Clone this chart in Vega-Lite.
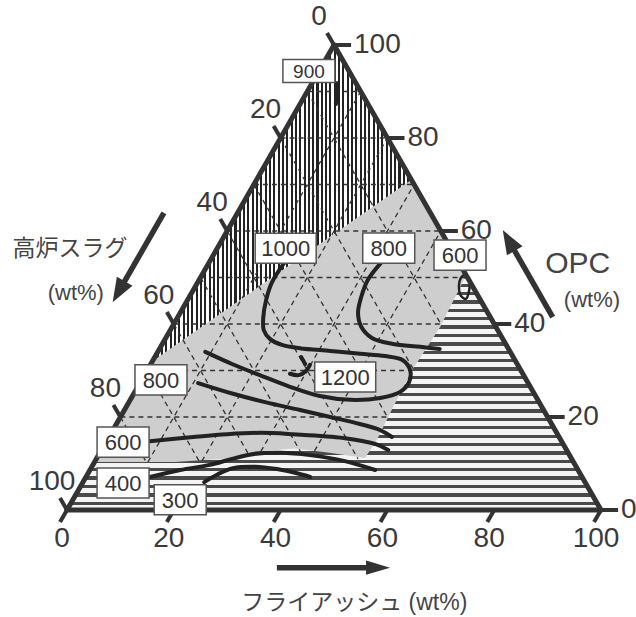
{
"$schema":"https://vega.github.io/schema/vega-lite/v6.json",
"width":636,"height":617,"autosize":{"type":"none"},"padding":0,"background":"white",
"config":{"view":{"stroke":null}},
"datasets":{
"regions":[
{"region":"base","i":0,"F":0,"C":0},{"region":"base","i":1,"F":100,"C":0},{"region":"base","i":2,"F":0,"C":100},
{"region":"wavy","i":0,"F":49.5,"C":50.5},{"region":"wavy","i":1,"F":50.2,"C":39.4},{"region":"wavy","i":2,"F":49.6,"C":30.1},{"region":"wavy","i":3,"F":50,"C":22.2},{"region":"wavy","i":4,"F":50.5,"C":15},{"region":"wavy","i":5,"F":50.2,"C":11.2},{"region":"wavy","i":6,"F":43,"C":12.3},{"region":"wavy","i":7,"F":36,"C":13.2},{"region":"wavy","i":8,"F":29,"C":12.6},{"region":"wavy","i":9,"F":24,"C":11},{"region":"wavy","i":10,"F":15,"C":10.3},{"region":"wavy","i":11,"F":0,"C":10.3},{"region":"wavy","i":12,"F":0,"C":0},{"region":"wavy","i":13,"F":100,"C":0},
{"region":"hatched","i":0,"F":0,"C":100},{"region":"hatched","i":1,"F":0,"C":32},{"region":"hatched","i":2,"F":29,"C":71}
],
"segments":[
{"kind":"grid","F":0,"C":20,"F2":50,"C2":20},{"kind":"grid","F":0,"C":30,"F2":49.6,"C2":30},{"kind":"grid","F":0,"C":40,"F2":50.2,"C2":40},{"kind":"grid","F":0,"C":50,"F2":50,"C2":50},{"kind":"grid","F":0,"C":60,"F2":40,"C2":60},{"kind":"grid","F":0,"C":70,"F2":30,"C2":70},{"kind":"grid","F":0,"C":80,"F2":20,"C2":80},{"kind":"grid","F":0,"C":90,"F2":10,"C2":90},
{"kind":"grid","F":10,"C":10.3,"F2":10,"C2":90},{"kind":"grid","F":20,"C":10.5,"F2":20,"C2":80},{"kind":"grid","F":30,"C":12.6,"F2":30,"C2":70},{"kind":"grid","F":40,"C":12.7,"F2":40,"C2":60},
{"kind":"grid","F":0,"C":90,"F2":50,"C2":40},{"kind":"grid","F":0,"C":80,"F2":50,"C2":30},{"kind":"grid","F":0,"C":70,"F2":50,"C2":20},{"kind":"grid","F":0,"C":60,"F2":49,"C2":11},{"kind":"grid","F":0,"C":50,"F2":37.5,"C2":12.5},{"kind":"grid","F":0,"C":40,"F2":27.7,"C2":12.3},{"kind":"grid","F":0,"C":30,"F2":19.5,"C2":10.5},{"kind":"grid","F":0,"C":20,"F2":9.7,"C2":10.3},
{"kind":"edge","F":0,"C":0,"F2":100,"C2":0},{"kind":"edge","F":100,"C":0,"F2":0,"C2":100},{"kind":"edge","F":0,"C":100,"F2":0,"C2":0},
{"kind":"tick","F":0,"C":0,"F2":0,"C2":-2.6},{"kind":"tick","F":20,"C":0,"F2":20,"C2":-2.6},{"kind":"tick","F":40,"C":0,"F2":40,"C2":-2.6},{"kind":"tick","F":60,"C":0,"F2":60,"C2":-2.6},{"kind":"tick","F":80,"C":0,"F2":80,"C2":-2.6},{"kind":"tick","F":100,"C":0,"F2":100,"C2":-2.6},
{"kind":"tick","F":0,"C":100,"F2":-2.6,"C2":102.6},{"kind":"tick","F":0,"C":80,"F2":-2.6,"C2":82.6},{"kind":"tick","F":0,"C":60,"F2":-2.6,"C2":62.6},{"kind":"tick","F":0,"C":40,"F2":-2.6,"C2":42.6},{"kind":"tick","F":0,"C":20,"F2":-2.6,"C2":22.6},{"kind":"tick","F":0,"C":0,"F2":-2.6,"C2":2.6},
{"kind":"tick","F":100,"C":0,"F2":103.2,"C2":0},{"kind":"tick","F":80,"C":20,"F2":83.2,"C2":20},{"kind":"tick","F":60,"C":40,"F2":63.2,"C2":40},{"kind":"tick","F":40,"C":60,"F2":43.2,"C2":60},{"kind":"tick","F":20,"C":80,"F2":23.2,"C2":80},{"kind":"tick","F":0,"C":100,"F2":3.2,"C2":100},
{"kind":"arrow","F":-13.8,"C":63.9,"F2":-13.8,"C2":47.0},{"kind":"arrow","F":70.2,"C":41.5,"F2":53.7,"C2":58.0},{"kind":"arrow","F":45.5,"C":-12.4,"F2":64.4,"C2":-12.4}
],
"contours":[
{"id":"c1000","i":0,"F":14.1,"C":53.1},{"id":"c1000","i":1,"F":13.9,"C":49.0},{"id":"c1000","i":2,"F":14.7,"C":45.2},{"id":"c1000","i":3,"F":16.1,"C":41.3},{"id":"c1000","i":4,"F":17.5,"C":38.7},{"id":"c1000","i":5,"F":19.6,"C":36.8},{"id":"c1000","i":6,"F":22.5,"C":35.5},{"id":"c1000","i":7,"F":26.2,"C":34.8},{"id":"c1000","i":8,"F":32.2,"C":34.2},{"id":"c1000","i":9,"F":38.1,"C":33.6},{"id":"c1000","i":10,"F":43.0,"C":33.1},{"id":"c1000","i":11,"F":46.6,"C":32.3},{"id":"c1000","i":12,"F":49.2,"C":30.1},{"id":"c1000","i":13,"F":50.3,"C":27.5},{"id":"c1000","i":14,"F":49.7,"C":25.4},{"id":"c1000","i":15,"F":46.6,"C":24.1},{"id":"c1000","i":16,"F":41.2,"C":23.7},{"id":"c1000","i":17,"F":35.1,"C":24.5},{"id":"c1000","i":18,"F":28.5,"C":26.5},{"id":"c1000","i":19,"F":21.6,"C":29.0},{"id":"c1000","i":20,"F":15.2,"C":31.4},{"id":"c1000","i":21,"F":8.9,"C":34.0},
{"id":"c800a","i":0,"F":32.2,"C":53.1},{"id":"c800a","i":1,"F":31.6,"C":49.5},{"id":"c800a","i":2,"F":32.2,"C":45.8},{"id":"c800a","i":3,"F":33.3,"C":42.4},{"id":"c800a","i":4,"F":35.4,"C":39.4},{"id":"c800a","i":5,"F":38.6,"C":37.0},{"id":"c800a","i":6,"F":43.2,"C":35.7},{"id":"c800a","i":7,"F":48.6,"C":35.1},{"id":"c800a","i":8,"F":52.5,"C":34.6},
{"id":"c800b","i":0,"F":10.9,"C":27.3},{"id":"c800b","i":1,"F":18.6,"C":25.0},{"id":"c800b","i":2,"F":25.5,"C":23.2},{"id":"c800b","i":3,"F":32.9,"C":21.5},{"id":"c800b","i":4,"F":39.3,"C":20.0},{"id":"c800b","i":5,"F":45.6,"C":18.5},{"id":"c800b","i":6,"F":50.0,"C":17.2},{"id":"c800b","i":7,"F":53.0,"C":15.7},
{"id":"c600","i":0,"F":8.1,"C":14.8},{"id":"c600","i":1,"F":15.8,"C":15.7},{"id":"c600","i":2,"F":21.8,"C":16.3},{"id":"c600","i":3,"F":27.9,"C":16.6},{"id":"c600","i":4,"F":34.2,"C":16.3},{"id":"c600","i":5,"F":44.0,"C":15.5},{"id":"c600","i":6,"F":50.6,"C":14.2},{"id":"c600","i":7,"F":53.7,"C":12.9},
{"id":"c400","i":0,"F":12.0,"C":7.1},{"id":"c400","i":1,"F":16.9,"C":8.6},{"id":"c400","i":2,"F":21.9,"C":9.7},{"id":"c400","i":3,"F":25.4,"C":11.0},{"id":"c400","i":4,"F":28.8,"C":12.0},{"id":"c400","i":5,"F":33.8,"C":12.3},{"id":"c400","i":6,"F":39.6,"C":11.8},{"id":"c400","i":7,"F":46.8,"C":10.5},{"id":"c400","i":8,"F":53.4,"C":8.6},
{"id":"c300","i":0,"F":22.7,"C":6.0},{"id":"c300","i":1,"F":24.4,"C":7.7},{"id":"c300","i":2,"F":26.6,"C":9.0},{"id":"c300","i":3,"F":30.6,"C":9.3},{"id":"c300","i":4,"F":34.9,"C":8.8},{"id":"c300","i":5,"F":38.7,"C":8.0},{"id":"c300","i":6,"F":42.0,"C":7.1},
{"id":"c900","i":0,"F":4.7,"C":91.8},{"id":"c900","i":1,"F":6.7,"C":87.3},
{"id":"c1200a","i":0,"F":27.1,"C":29.3},{"id":"c1200a","i":1,"F":28.9,"C":29.0},{"id":"c1200a","i":2,"F":29.8,"C":29.9},{"id":"c1200a","i":3,"F":29.9,"C":31.2},
{"id":"c1200b","i":0,"F":27.4,"C":32.9},{"id":"c1200b","i":1,"F":28.9,"C":31.4},
{"id":"loop600","i":0,"F":49.2,"C":50.8},{"id":"loop600","i":1,"F":50.6,"C":49.5},{"id":"loop600","i":2,"F":51.8,"C":46.9},{"id":"loop600","i":3,"F":52.0,"C":45.4},{"id":"loop600","i":4,"F":50.8,"C":46.0},{"id":"loop600","i":5,"F":49.3,"C":48.2},{"id":"loop600","i":6,"F":48.8,"C":49.9},{"id":"loop600","i":7,"F":49.2,"C":50.8}
],
"labels":[
{"label":"900","F":-1.9,"C":94.4},{"label":"1000","F":12.8,"C":56.3},{"label":"800","F":32.1,"C":56.3},{"label":"600","F":46.2,"C":54.8},{"label":"1200","F":37.8,"C":28.6},{"label":"800","F":3.6,"C":28.0},{"label":"600","F":3.2,"C":14.6},{"label":"400","F":7.6,"C":5.8},{"label":"300","F":20.1,"C":2.2}
],
"ticklabels":[
{"axis":"F","t":"0","F":0,"C":0},{"axis":"F","t":"20","F":20,"C":0},{"axis":"F","t":"40","F":40,"C":0},{"axis":"F","t":"60","F":60,"C":0},{"axis":"F","t":"80","F":80,"C":0},{"axis":"F","t":"100","F":100,"C":0},
{"axis":"S","t":"0","F":0,"C":100},{"axis":"S","t":"20","F":0,"C":80},{"axis":"S","t":"40","F":0,"C":60},{"axis":"S","t":"60","F":0,"C":40},{"axis":"S","t":"80","F":0,"C":20},{"axis":"S","t":"100","F":0,"C":0},
{"axis":"C","t":"0","F":100,"C":0},{"axis":"C","t":"20","F":80,"C":20},{"axis":"C","t":"40","F":60,"C":40},{"axis":"C","t":"60","F":40,"C":60},{"axis":"C","t":"80","F":20,"C":80},{"axis":"C","t":"100","F":0,"C":100}
],
"titles":[
{"name":"slag","t":"高炉スラグ","F":-27.5,"C":56.1},{"name":"slagunit","t":"(wt%)","F":-21.7,"C":46.7},{"name":"opc","t":"OPC","F":69.2,"C":52.9},{"name":"opcunit","t":"(wt%)","F":75.7,"C":45.2},{"name":"fa","t":"フライアッシュ (wt%)","F":63.8,"C":-20.0}
],
"heads":[
{"name":"slag","F":-13.8,"C":44.7},{"name":"opc","F":51.5,"C":60.2},{"name":"fa","F":66.7,"C":-12.4}
]
},
"layer":[
{"data":{"name":"regions"},"transform":[{"filter":"datum.region=='base'"},{"calculate":"datum.F+datum.C/2","as":"u"}],
 "mark":{"type":"line","fill":"#cecece","stroke":"transparent","strokeWidth":0},
 "encoding":{"x":{"field":"u","type":"quantitative","scale":{"domain":[-12.547,106.554],"nice":false,"zero":false},"axis":null},"y":{"field":"C","type":"quantitative","scale":{"domain":[-23.011,109.677],"nice":false,"zero":false},"axis":null},"order":{"field":"i","type":"quantitative"}}},
{"data":{"name":"regions"},"transform":[{"filter":"datum.region=='wavy'"},{"calculate":"datum.F+datum.C/2","as":"u"}],
 "mark":{"type":"line","stroke":"transparent","strokeWidth":0,"fill":{"gradient":"linear","x1":0,"y1":0,"x2":0,"y2":1,"stops":[
{"offset":0,"color":"#4a4a4a"},{"offset":0.0143,"color":"#4a4a4a"},{"offset":0.0143,"color":"#f4f4f4"},{"offset":0.0357,"color":"#f4f4f4"},
{"offset":0.0357,"color":"#4a4a4a"},{"offset":0.05,"color":"#4a4a4a"},{"offset":0.05,"color":"#f4f4f4"},{"offset":0.0714,"color":"#f4f4f4"},
{"offset":0.0714,"color":"#4a4a4a"},{"offset":0.0857,"color":"#4a4a4a"},{"offset":0.0857,"color":"#f4f4f4"},{"offset":0.1071,"color":"#f4f4f4"},
{"offset":0.1071,"color":"#4a4a4a"},{"offset":0.1214,"color":"#4a4a4a"},{"offset":0.1214,"color":"#f4f4f4"},{"offset":0.1429,"color":"#f4f4f4"},
{"offset":0.1429,"color":"#4a4a4a"},{"offset":0.1571,"color":"#4a4a4a"},{"offset":0.1571,"color":"#f4f4f4"},{"offset":0.1786,"color":"#f4f4f4"},
{"offset":0.1786,"color":"#4a4a4a"},{"offset":0.1929,"color":"#4a4a4a"},{"offset":0.1929,"color":"#f4f4f4"},{"offset":0.2143,"color":"#f4f4f4"},
{"offset":0.2143,"color":"#4a4a4a"},{"offset":0.2286,"color":"#4a4a4a"},{"offset":0.2286,"color":"#f4f4f4"},{"offset":0.25,"color":"#f4f4f4"},
{"offset":0.25,"color":"#4a4a4a"},{"offset":0.2643,"color":"#4a4a4a"},{"offset":0.2643,"color":"#f4f4f4"},{"offset":0.2857,"color":"#f4f4f4"},
{"offset":0.2857,"color":"#4a4a4a"},{"offset":0.3,"color":"#4a4a4a"},{"offset":0.3,"color":"#f4f4f4"},{"offset":0.3214,"color":"#f4f4f4"},
{"offset":0.3214,"color":"#4a4a4a"},{"offset":0.3357,"color":"#4a4a4a"},{"offset":0.3357,"color":"#f4f4f4"},{"offset":0.3571,"color":"#f4f4f4"},
{"offset":0.3571,"color":"#4a4a4a"},{"offset":0.3714,"color":"#4a4a4a"},{"offset":0.3714,"color":"#f4f4f4"},{"offset":0.3929,"color":"#f4f4f4"},
{"offset":0.3929,"color":"#4a4a4a"},{"offset":0.4071,"color":"#4a4a4a"},{"offset":0.4071,"color":"#f4f4f4"},{"offset":0.4286,"color":"#f4f4f4"},
{"offset":0.4286,"color":"#4a4a4a"},{"offset":0.4429,"color":"#4a4a4a"},{"offset":0.4429,"color":"#f4f4f4"},{"offset":0.4643,"color":"#f4f4f4"},
{"offset":0.4643,"color":"#4a4a4a"},{"offset":0.4786,"color":"#4a4a4a"},{"offset":0.4786,"color":"#f4f4f4"},{"offset":0.5,"color":"#f4f4f4"},
{"offset":0.5,"color":"#4a4a4a"},{"offset":0.5143,"color":"#4a4a4a"},{"offset":0.5143,"color":"#f4f4f4"},{"offset":0.5357,"color":"#f4f4f4"},
{"offset":0.5357,"color":"#4a4a4a"},{"offset":0.55,"color":"#4a4a4a"},{"offset":0.55,"color":"#f4f4f4"},{"offset":0.5714,"color":"#f4f4f4"},
{"offset":0.5714,"color":"#4a4a4a"},{"offset":0.5857,"color":"#4a4a4a"},{"offset":0.5857,"color":"#f4f4f4"},{"offset":0.6071,"color":"#f4f4f4"},
{"offset":0.6071,"color":"#4a4a4a"},{"offset":0.6214,"color":"#4a4a4a"},{"offset":0.6214,"color":"#f4f4f4"},{"offset":0.6429,"color":"#f4f4f4"},
{"offset":0.6429,"color":"#4a4a4a"},{"offset":0.6571,"color":"#4a4a4a"},{"offset":0.6571,"color":"#f4f4f4"},{"offset":0.6786,"color":"#f4f4f4"},
{"offset":0.6786,"color":"#4a4a4a"},{"offset":0.6929,"color":"#4a4a4a"},{"offset":0.6929,"color":"#f4f4f4"},{"offset":0.7143,"color":"#f4f4f4"},
{"offset":0.7143,"color":"#4a4a4a"},{"offset":0.7286,"color":"#4a4a4a"},{"offset":0.7286,"color":"#f4f4f4"},{"offset":0.75,"color":"#f4f4f4"},
{"offset":0.75,"color":"#4a4a4a"},{"offset":0.7643,"color":"#4a4a4a"},{"offset":0.7643,"color":"#f4f4f4"},{"offset":0.7857,"color":"#f4f4f4"},
{"offset":0.7857,"color":"#4a4a4a"},{"offset":0.8,"color":"#4a4a4a"},{"offset":0.8,"color":"#f4f4f4"},{"offset":0.8214,"color":"#f4f4f4"},
{"offset":0.8214,"color":"#4a4a4a"},{"offset":0.8357,"color":"#4a4a4a"},{"offset":0.8357,"color":"#f4f4f4"},{"offset":0.8571,"color":"#f4f4f4"},
{"offset":0.8571,"color":"#4a4a4a"},{"offset":0.8714,"color":"#4a4a4a"},{"offset":0.8714,"color":"#f4f4f4"},{"offset":0.8929,"color":"#f4f4f4"},
{"offset":0.8929,"color":"#4a4a4a"},{"offset":0.9071,"color":"#4a4a4a"},{"offset":0.9071,"color":"#f4f4f4"},{"offset":0.9286,"color":"#f4f4f4"},
{"offset":0.9286,"color":"#4a4a4a"},{"offset":0.9429,"color":"#4a4a4a"},{"offset":0.9429,"color":"#f4f4f4"},{"offset":0.9643,"color":"#f4f4f4"},
{"offset":0.9643,"color":"#4a4a4a"},{"offset":0.9786,"color":"#4a4a4a"},{"offset":0.9786,"color":"#f4f4f4"},{"offset":1,"color":"#f4f4f4"}
]}},
 "encoding":{"x":{"field":"u","type":"quantitative","scale":{"domain":[-12.547,106.554],"nice":false,"zero":false},"axis":null},"y":{"field":"C","type":"quantitative","scale":{"domain":[-23.011,109.677],"nice":false,"zero":false},"axis":null},"order":{"field":"i","type":"quantitative"}}},
{"data":{"name":"regions"},"transform":[{"filter":"datum.region=='hatched'"},{"calculate":"datum.F+datum.C/2","as":"u"}],
 "mark":{"type":"line","stroke":"transparent","strokeWidth":0,"fill":{"gradient":"linear","x1":0,"y1":0,"x2":1,"y2":0,"stops":[
{"offset":0,"color":"#222"},{"offset":0.008,"color":"#222"},{"offset":0.008,"color":"#fff"},{"offset":0.0167,"color":"#fff"},
{"offset":0.0167,"color":"#222"},{"offset":0.0247,"color":"#222"},{"offset":0.0247,"color":"#fff"},{"offset":0.0333,"color":"#fff"},
{"offset":0.0333,"color":"#222"},{"offset":0.0413,"color":"#222"},{"offset":0.0413,"color":"#fff"},{"offset":0.05,"color":"#fff"},
{"offset":0.05,"color":"#222"},{"offset":0.058,"color":"#222"},{"offset":0.058,"color":"#fff"},{"offset":0.0667,"color":"#fff"},
{"offset":0.0667,"color":"#222"},{"offset":0.0747,"color":"#222"},{"offset":0.0747,"color":"#fff"},{"offset":0.0833,"color":"#fff"},
{"offset":0.0833,"color":"#222"},{"offset":0.0913,"color":"#222"},{"offset":0.0913,"color":"#fff"},{"offset":0.1,"color":"#fff"},
{"offset":0.1,"color":"#222"},{"offset":0.108,"color":"#222"},{"offset":0.108,"color":"#fff"},{"offset":0.1167,"color":"#fff"},
{"offset":0.1167,"color":"#222"},{"offset":0.1247,"color":"#222"},{"offset":0.1247,"color":"#fff"},{"offset":0.1333,"color":"#fff"},
{"offset":0.1333,"color":"#222"},{"offset":0.1413,"color":"#222"},{"offset":0.1413,"color":"#fff"},{"offset":0.15,"color":"#fff"},
{"offset":0.15,"color":"#222"},{"offset":0.158,"color":"#222"},{"offset":0.158,"color":"#fff"},{"offset":0.1667,"color":"#fff"},
{"offset":0.1667,"color":"#222"},{"offset":0.1747,"color":"#222"},{"offset":0.1747,"color":"#fff"},{"offset":0.1833,"color":"#fff"},
{"offset":0.1833,"color":"#222"},{"offset":0.1913,"color":"#222"},{"offset":0.1913,"color":"#fff"},{"offset":0.2,"color":"#fff"},
{"offset":0.2,"color":"#222"},{"offset":0.208,"color":"#222"},{"offset":0.208,"color":"#fff"},{"offset":0.2167,"color":"#fff"},
{"offset":0.2167,"color":"#222"},{"offset":0.2247,"color":"#222"},{"offset":0.2247,"color":"#fff"},{"offset":0.2333,"color":"#fff"},
{"offset":0.2333,"color":"#222"},{"offset":0.2413,"color":"#222"},{"offset":0.2413,"color":"#fff"},{"offset":0.25,"color":"#fff"},
{"offset":0.25,"color":"#222"},{"offset":0.258,"color":"#222"},{"offset":0.258,"color":"#fff"},{"offset":0.2667,"color":"#fff"},
{"offset":0.2667,"color":"#222"},{"offset":0.2747,"color":"#222"},{"offset":0.2747,"color":"#fff"},{"offset":0.2833,"color":"#fff"},
{"offset":0.2833,"color":"#222"},{"offset":0.2913,"color":"#222"},{"offset":0.2913,"color":"#fff"},{"offset":0.3,"color":"#fff"},
{"offset":0.3,"color":"#222"},{"offset":0.308,"color":"#222"},{"offset":0.308,"color":"#fff"},{"offset":0.3167,"color":"#fff"},
{"offset":0.3167,"color":"#222"},{"offset":0.3247,"color":"#222"},{"offset":0.3247,"color":"#fff"},{"offset":0.3333,"color":"#fff"},
{"offset":0.3333,"color":"#222"},{"offset":0.3413,"color":"#222"},{"offset":0.3413,"color":"#fff"},{"offset":0.35,"color":"#fff"},
{"offset":0.35,"color":"#222"},{"offset":0.358,"color":"#222"},{"offset":0.358,"color":"#fff"},{"offset":0.3667,"color":"#fff"},
{"offset":0.3667,"color":"#222"},{"offset":0.3747,"color":"#222"},{"offset":0.3747,"color":"#fff"},{"offset":0.3833,"color":"#fff"},
{"offset":0.3833,"color":"#222"},{"offset":0.3913,"color":"#222"},{"offset":0.3913,"color":"#fff"},{"offset":0.4,"color":"#fff"},
{"offset":0.4,"color":"#222"},{"offset":0.408,"color":"#222"},{"offset":0.408,"color":"#fff"},{"offset":0.4167,"color":"#fff"},
{"offset":0.4167,"color":"#222"},{"offset":0.4247,"color":"#222"},{"offset":0.4247,"color":"#fff"},{"offset":0.4333,"color":"#fff"},
{"offset":0.4333,"color":"#222"},{"offset":0.4413,"color":"#222"},{"offset":0.4413,"color":"#fff"},{"offset":0.45,"color":"#fff"},
{"offset":0.45,"color":"#222"},{"offset":0.458,"color":"#222"},{"offset":0.458,"color":"#fff"},{"offset":0.4667,"color":"#fff"},
{"offset":0.4667,"color":"#222"},{"offset":0.4747,"color":"#222"},{"offset":0.4747,"color":"#fff"},{"offset":0.4833,"color":"#fff"},
{"offset":0.4833,"color":"#222"},{"offset":0.4913,"color":"#222"},{"offset":0.4913,"color":"#fff"},{"offset":0.5,"color":"#fff"},
{"offset":0.5,"color":"#222"},{"offset":0.508,"color":"#222"},{"offset":0.508,"color":"#fff"},{"offset":0.5167,"color":"#fff"},
{"offset":0.5167,"color":"#222"},{"offset":0.5247,"color":"#222"},{"offset":0.5247,"color":"#fff"},{"offset":0.5333,"color":"#fff"},
{"offset":0.5333,"color":"#222"},{"offset":0.5413,"color":"#222"},{"offset":0.5413,"color":"#fff"},{"offset":0.55,"color":"#fff"},
{"offset":0.55,"color":"#222"},{"offset":0.558,"color":"#222"},{"offset":0.558,"color":"#fff"},{"offset":0.5667,"color":"#fff"},
{"offset":0.5667,"color":"#222"},{"offset":0.5747,"color":"#222"},{"offset":0.5747,"color":"#fff"},{"offset":0.5833,"color":"#fff"},
{"offset":0.5833,"color":"#222"},{"offset":0.5913,"color":"#222"},{"offset":0.5913,"color":"#fff"},{"offset":0.6,"color":"#fff"},
{"offset":0.6,"color":"#222"},{"offset":0.608,"color":"#222"},{"offset":0.608,"color":"#fff"},{"offset":0.6167,"color":"#fff"},
{"offset":0.6167,"color":"#222"},{"offset":0.6247,"color":"#222"},{"offset":0.6247,"color":"#fff"},{"offset":0.6333,"color":"#fff"},
{"offset":0.6333,"color":"#222"},{"offset":0.6413,"color":"#222"},{"offset":0.6413,"color":"#fff"},{"offset":0.65,"color":"#fff"},
{"offset":0.65,"color":"#222"},{"offset":0.658,"color":"#222"},{"offset":0.658,"color":"#fff"},{"offset":0.6667,"color":"#fff"},
{"offset":0.6667,"color":"#222"},{"offset":0.6747,"color":"#222"},{"offset":0.6747,"color":"#fff"},{"offset":0.6833,"color":"#fff"},
{"offset":0.6833,"color":"#222"},{"offset":0.6913,"color":"#222"},{"offset":0.6913,"color":"#fff"},{"offset":0.7,"color":"#fff"},
{"offset":0.7,"color":"#222"},{"offset":0.708,"color":"#222"},{"offset":0.708,"color":"#fff"},{"offset":0.7167,"color":"#fff"},
{"offset":0.7167,"color":"#222"},{"offset":0.7247,"color":"#222"},{"offset":0.7247,"color":"#fff"},{"offset":0.7333,"color":"#fff"},
{"offset":0.7333,"color":"#222"},{"offset":0.7413,"color":"#222"},{"offset":0.7413,"color":"#fff"},{"offset":0.75,"color":"#fff"},
{"offset":0.75,"color":"#222"},{"offset":0.758,"color":"#222"},{"offset":0.758,"color":"#fff"},{"offset":0.7667,"color":"#fff"},
{"offset":0.7667,"color":"#222"},{"offset":0.7747,"color":"#222"},{"offset":0.7747,"color":"#fff"},{"offset":0.7833,"color":"#fff"},
{"offset":0.7833,"color":"#222"},{"offset":0.7913,"color":"#222"},{"offset":0.7913,"color":"#fff"},{"offset":0.8,"color":"#fff"},
{"offset":0.8,"color":"#222"},{"offset":0.808,"color":"#222"},{"offset":0.808,"color":"#fff"},{"offset":0.8167,"color":"#fff"},
{"offset":0.8167,"color":"#222"},{"offset":0.8247,"color":"#222"},{"offset":0.8247,"color":"#fff"},{"offset":0.8333,"color":"#fff"},
{"offset":0.8333,"color":"#222"},{"offset":0.8413,"color":"#222"},{"offset":0.8413,"color":"#fff"},{"offset":0.85,"color":"#fff"},
{"offset":0.85,"color":"#222"},{"offset":0.858,"color":"#222"},{"offset":0.858,"color":"#fff"},{"offset":0.8667,"color":"#fff"},
{"offset":0.8667,"color":"#222"},{"offset":0.8747,"color":"#222"},{"offset":0.8747,"color":"#fff"},{"offset":0.8833,"color":"#fff"},
{"offset":0.8833,"color":"#222"},{"offset":0.8913,"color":"#222"},{"offset":0.8913,"color":"#fff"},{"offset":0.9,"color":"#fff"},
{"offset":0.9,"color":"#222"},{"offset":0.908,"color":"#222"},{"offset":0.908,"color":"#fff"},{"offset":0.9167,"color":"#fff"},
{"offset":0.9167,"color":"#222"},{"offset":0.9247,"color":"#222"},{"offset":0.9247,"color":"#fff"},{"offset":0.9333,"color":"#fff"},
{"offset":0.9333,"color":"#222"},{"offset":0.9413,"color":"#222"},{"offset":0.9413,"color":"#fff"},{"offset":0.95,"color":"#fff"},
{"offset":0.95,"color":"#222"},{"offset":0.958,"color":"#222"},{"offset":0.958,"color":"#fff"},{"offset":0.9667,"color":"#fff"},
{"offset":0.9667,"color":"#222"},{"offset":0.9747,"color":"#222"},{"offset":0.9747,"color":"#fff"},{"offset":0.9833,"color":"#fff"},
{"offset":0.9833,"color":"#222"},{"offset":0.9913,"color":"#222"},{"offset":0.9913,"color":"#fff"},{"offset":1,"color":"#fff"}
]}},
 "encoding":{"x":{"field":"u","type":"quantitative","scale":{"domain":[-12.547,106.554],"nice":false,"zero":false},"axis":null},"y":{"field":"C","type":"quantitative","scale":{"domain":[-23.011,109.677],"nice":false,"zero":false},"axis":null},"order":{"field":"i","type":"quantitative"}}},
{"data":{"name":"segments"},"transform":[{"filter":"datum.kind=='grid'"},{"calculate":"datum.F+datum.C/2","as":"u"},{"calculate":"datum.F2+datum.C2/2","as":"u2"}],
 "mark":{"type":"rule","color":"#333","strokeWidth":1.3,"strokeDash":[5,4]},
 "encoding":{"x":{"field":"u","type":"quantitative","scale":{"domain":[-12.547,106.554],"nice":false,"zero":false},"axis":null},"y":{"field":"C","type":"quantitative","scale":{"domain":[-23.011,109.677],"nice":false,"zero":false},"axis":null},"x2":{"field":"u2"},"y2":{"field":"C2"}}},
{"data":{"name":"contours"},"transform":[{"filter":"datum.id!='loop600'"},{"calculate":"datum.F+datum.C/2","as":"u"}],
 "mark":{"type":"line","color":"#222","strokeWidth":4,"strokeCap":"round","strokeJoin":"round","interpolate":"catmull-rom"},
 "encoding":{"x":{"field":"u","type":"quantitative","scale":{"domain":[-12.547,106.554],"nice":false,"zero":false},"axis":null},"y":{"field":"C","type":"quantitative","scale":{"domain":[-23.011,109.677],"nice":false,"zero":false},"axis":null},"detail":{"field":"id"},"order":{"field":"i","type":"quantitative"}}},
{"data":{"name":"contours"},"transform":[{"filter":"datum.id=='loop600'"},{"calculate":"datum.F+datum.C/2","as":"u"}],
 "mark":{"type":"line","color":"#222","strokeWidth":2.5,"strokeCap":"round","strokeJoin":"round","interpolate":"catmull-rom"},
 "encoding":{"x":{"field":"u","type":"quantitative","scale":{"domain":[-12.547,106.554],"nice":false,"zero":false},"axis":null},"y":{"field":"C","type":"quantitative","scale":{"domain":[-23.011,109.677],"nice":false,"zero":false},"axis":null},"order":{"field":"i","type":"quantitative"}}},
{"data":{"name":"segments"},"transform":[{"filter":"datum.kind=='edge'"},{"calculate":"datum.F+datum.C/2","as":"u"},{"calculate":"datum.F2+datum.C2/2","as":"u2"}],
 "mark":{"type":"rule","color":"#333","strokeWidth":5,"strokeCap":"round"},
 "encoding":{"x":{"field":"u","type":"quantitative","scale":{"domain":[-12.547,106.554],"nice":false,"zero":false},"axis":null},"y":{"field":"C","type":"quantitative","scale":{"domain":[-23.011,109.677],"nice":false,"zero":false},"axis":null},"x2":{"field":"u2"},"y2":{"field":"C2"}}},
{"data":{"name":"segments"},"transform":[{"filter":"datum.kind=='tick'"},{"calculate":"datum.F+datum.C/2","as":"u"},{"calculate":"datum.F2+datum.C2/2","as":"u2"}],
 "mark":{"type":"rule","color":"#333","strokeWidth":4},
 "encoding":{"x":{"field":"u","type":"quantitative","scale":{"domain":[-12.547,106.554],"nice":false,"zero":false},"axis":null},"y":{"field":"C","type":"quantitative","scale":{"domain":[-23.011,109.677],"nice":false,"zero":false},"axis":null},"x2":{"field":"u2"},"y2":{"field":"C2"}}},
{"data":{"name":"segments"},"transform":[{"filter":"datum.kind=='arrow'"},{"calculate":"datum.F+datum.C/2","as":"u"},{"calculate":"datum.F2+datum.C2/2","as":"u2"}],
 "mark":{"type":"rule","color":"#333","strokeWidth":5.5},
 "encoding":{"x":{"field":"u","type":"quantitative","scale":{"domain":[-12.547,106.554],"nice":false,"zero":false},"axis":null},"y":{"field":"C","type":"quantitative","scale":{"domain":[-23.011,109.677],"nice":false,"zero":false},"axis":null},"x2":{"field":"u2"},"y2":{"field":"C2"}}},
{"data":{"name":"heads"},"transform":[{"filter":"datum.name=='slag'"},{"calculate":"datum.F+datum.C/2","as":"u"}],
 "mark":{"type":"point","shape":"M0,0L-0.75,2L0.75,2Z","size":576,"angle":210,"filled":true,"color":"#333","opacity":1},
 "encoding":{"x":{"field":"u","type":"quantitative","scale":{"domain":[-12.547,106.554],"nice":false,"zero":false},"axis":null},"y":{"field":"C","type":"quantitative","scale":{"domain":[-23.011,109.677],"nice":false,"zero":false},"axis":null}}},
{"data":{"name":"heads"},"transform":[{"filter":"datum.name=='opc'"},{"calculate":"datum.F+datum.C/2","as":"u"}],
 "mark":{"type":"point","shape":"M0,0L-0.75,2L0.75,2Z","size":576,"angle":330,"filled":true,"color":"#333","opacity":1},
 "encoding":{"x":{"field":"u","type":"quantitative","scale":{"domain":[-12.547,106.554],"nice":false,"zero":false},"axis":null},"y":{"field":"C","type":"quantitative","scale":{"domain":[-23.011,109.677],"nice":false,"zero":false},"axis":null}}},
{"data":{"name":"heads"},"transform":[{"filter":"datum.name=='fa'"},{"calculate":"datum.F+datum.C/2","as":"u"}],
 "mark":{"type":"point","shape":"M0,0L-0.6,2L0.6,2Z","size":576,"angle":90,"filled":true,"color":"#333","opacity":1},
 "encoding":{"x":{"field":"u","type":"quantitative","scale":{"domain":[-12.547,106.554],"nice":false,"zero":false},"axis":null},"y":{"field":"C","type":"quantitative","scale":{"domain":[-23.011,109.677],"nice":false,"zero":false},"axis":null}}},
{"data":{"name":"ticklabels"},"transform":[{"filter":"datum.axis=='F'"},{"calculate":"datum.F+datum.C/2","as":"u"}],
 "mark":{"type":"text","font":"Liberation Sans","fontSize":28,"color":"#3a3a3a","align":"center","baseline":"middle","dx":-5,"dy":29},
 "encoding":{"x":{"field":"u","type":"quantitative","scale":{"domain":[-12.547,106.554],"nice":false,"zero":false},"axis":null},"y":{"field":"C","type":"quantitative","scale":{"domain":[-23.011,109.677],"nice":false,"zero":false},"axis":null},"text":{"field":"t"}}},
{"data":{"name":"ticklabels"},"transform":[{"filter":"datum.axis=='S'"},{"calculate":"datum.F+datum.C/2","as":"u"}],
 "mark":{"type":"text","font":"Liberation Sans","fontSize":28,"color":"#3a3a3a","align":"center","baseline":"middle","dx":-15,"dy":-28},
 "encoding":{"x":{"field":"u","type":"quantitative","scale":{"domain":[-12.547,106.554],"nice":false,"zero":false},"axis":null},"y":{"field":"C","type":"quantitative","scale":{"domain":[-23.011,109.677],"nice":false,"zero":false},"axis":null},"text":{"field":"t"}}},
{"data":{"name":"ticklabels"},"transform":[{"filter":"datum.axis=='C'"},{"calculate":"datum.F+datum.C/2","as":"u"}],
 "mark":{"type":"text","font":"Liberation Sans","fontSize":28,"color":"#3a3a3a","align":"left","baseline":"middle","dx":20,"dy":0},
 "encoding":{"x":{"field":"u","type":"quantitative","scale":{"domain":[-12.547,106.554],"nice":false,"zero":false},"axis":null},"y":{"field":"C","type":"quantitative","scale":{"domain":[-23.011,109.677],"nice":false,"zero":false},"axis":null},"text":{"field":"t"}}},
{"data":{"name":"labels"},"transform":[{"filter":"length(datum.label)==3 && datum.label!='900'"},{"calculate":"datum.F+datum.C/2","as":"u"}],
 "mark":{"type":"point","shape":"M-1,-0.58L1,-0.58L1,0.58L-1,0.58Z","size":2704,"filled":true,"fill":"white","stroke":"#555","strokeWidth":1.5,"opacity":1},
 "encoding":{"x":{"field":"u","type":"quantitative","scale":{"domain":[-12.547,106.554],"nice":false,"zero":false},"axis":null},"y":{"field":"C","type":"quantitative","scale":{"domain":[-23.011,109.677],"nice":false,"zero":false},"axis":null}}},
{"data":{"name":"labels"},"transform":[{"filter":"length(datum.label)==4"},{"calculate":"datum.F+datum.C/2","as":"u"}],
 "mark":{"type":"point","shape":"M-1,-0.49L1,-0.49L1,0.49L-1,0.49Z","size":3721,"filled":true,"fill":"white","stroke":"#555","strokeWidth":1.5,"opacity":1},
 "encoding":{"x":{"field":"u","type":"quantitative","scale":{"domain":[-12.547,106.554],"nice":false,"zero":false},"axis":null},"y":{"field":"C","type":"quantitative","scale":{"domain":[-23.011,109.677],"nice":false,"zero":false},"axis":null}}},
{"data":{"name":"labels"},"transform":[{"filter":"datum.label=='900'"},{"calculate":"datum.F+datum.C/2","as":"u"}],
 "mark":{"type":"point","shape":"M-1,-0.44L1,-0.44L1,0.44L-1,0.44Z","size":2704,"filled":true,"fill":"white","stroke":"#555","strokeWidth":1.5,"opacity":1},
 "encoding":{"x":{"field":"u","type":"quantitative","scale":{"domain":[-12.547,106.554],"nice":false,"zero":false},"axis":null},"y":{"field":"C","type":"quantitative","scale":{"domain":[-23.011,109.677],"nice":false,"zero":false},"axis":null}}},
{"data":{"name":"labels"},"transform":[{"filter":"datum.label!='900'"},{"calculate":"datum.F+datum.C/2","as":"u"}],
 "mark":{"type":"text","font":"Liberation Sans","fontSize":22,"color":"#333","align":"center","baseline":"middle","dy":1},
 "encoding":{"x":{"field":"u","type":"quantitative","scale":{"domain":[-12.547,106.554],"nice":false,"zero":false},"axis":null},"y":{"field":"C","type":"quantitative","scale":{"domain":[-23.011,109.677],"nice":false,"zero":false},"axis":null},"text":{"field":"label"}}},
{"data":{"name":"labels"},"transform":[{"filter":"datum.label=='900'"},{"calculate":"datum.F+datum.C/2","as":"u"}],
 "mark":{"type":"text","font":"Liberation Sans","fontSize":19,"color":"#333","align":"center","baseline":"middle","dy":1},
 "encoding":{"x":{"field":"u","type":"quantitative","scale":{"domain":[-12.547,106.554],"nice":false,"zero":false},"axis":null},"y":{"field":"C","type":"quantitative","scale":{"domain":[-23.011,109.677],"nice":false,"zero":false},"axis":null},"text":{"field":"label"}}},
{"data":{"name":"titles"},"transform":[{"filter":"datum.name=='slag' || datum.name=='fa'"},{"calculate":"datum.F+datum.C/2","as":"u"}],
 "mark":{"type":"text","font":"Liberation Sans, Noto Sans CJK JP","fontSize":23,"color":"#444","align":"center","baseline":"middle"},
 "encoding":{"x":{"field":"u","type":"quantitative","scale":{"domain":[-12.547,106.554],"nice":false,"zero":false},"axis":null},"y":{"field":"C","type":"quantitative","scale":{"domain":[-23.011,109.677],"nice":false,"zero":false},"axis":null},"text":{"field":"t"}}},
{"data":{"name":"titles"},"transform":[{"filter":"datum.name=='slagunit' || datum.name=='opcunit'"},{"calculate":"datum.F+datum.C/2","as":"u"}],
 "mark":{"type":"text","font":"Liberation Sans","fontSize":22,"color":"#444","align":"center","baseline":"middle"},
 "encoding":{"x":{"field":"u","type":"quantitative","scale":{"domain":[-12.547,106.554],"nice":false,"zero":false},"axis":null},"y":{"field":"C","type":"quantitative","scale":{"domain":[-23.011,109.677],"nice":false,"zero":false},"axis":null},"text":{"field":"t"}}},
{"data":{"name":"titles"},"transform":[{"filter":"datum.name=='opc'"},{"calculate":"datum.F+datum.C/2","as":"u"}],
 "mark":{"type":"text","font":"Liberation Sans","fontSize":30,"color":"#444","align":"center","baseline":"middle"},
 "encoding":{"x":{"field":"u","type":"quantitative","scale":{"domain":[-12.547,106.554],"nice":false,"zero":false},"axis":null},"y":{"field":"C","type":"quantitative","scale":{"domain":[-23.011,109.677],"nice":false,"zero":false},"axis":null},"text":{"field":"t"}}}
]
}
